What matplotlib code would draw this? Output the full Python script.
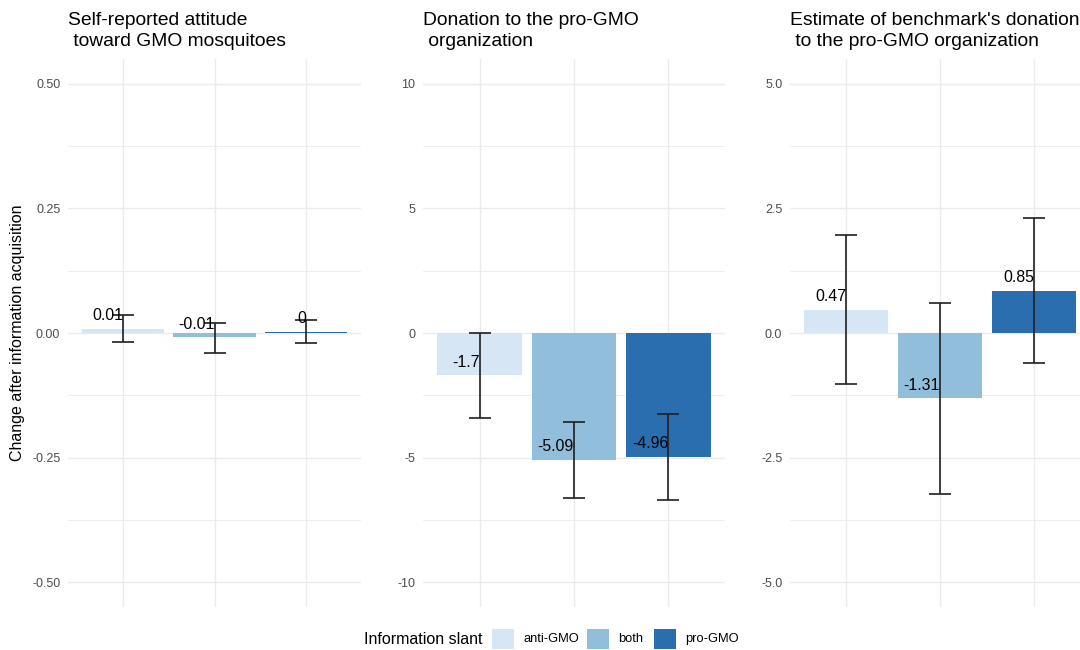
import matplotlib.pyplot as plt
from matplotlib.patches import Rectangle
from matplotlib.ticker import MultipleLocator

plt.rcParams['font.family'] = ['Liberation Sans', 'DejaVu Sans']

# Dados
slants = ["anti-GMO", "both", "pro-GMO"]
colors = ["#D6E6F4", "#91BFDB", "#2A6EB0"]

titles = ["Self-reported attitude\n toward GMO mosquitoes",
          "Donation to the pro-GMO\n organization",
          "Estimate of benchmark's donation\n to the pro-GMO organization"]

attitude = [0.008, -0.009, 0.002]
attitude_lo = [-0.019, -0.040, -0.021]
attitude_hi = [0.037, 0.021, 0.026]

donation = [-1.70, -5.09, -4.96]
donation_lo = [-3.40, -6.64, -6.69]
donation_hi = [0.00, -3.57, -3.27]

benchmark = [0.47, -1.31, 0.85]
benchmark_lo = [-1.02, -3.24, -0.60]
benchmark_hi = [1.97, 0.60, 2.30]

limits = [0.5, 10, 5]
major_steps = [0.25, 5, 2.5]
tick_fmt = ["{:.2f}", "{:g}", "{:.1f}"]

panels = [(attitude, attitude_lo, attitude_hi),
          (donation, donation_lo, donation_hi),
          (benchmark, benchmark_lo, benchmark_hi)]

# posições dos painéis em pixels (esquerda, largura)
W, H = 1080, 650
pos_px = [(68, 293), (423, 302), (790, 300)]
top_px, bot_px = 59, 607

fig = plt.figure(figsize=(W / 100, H / 100), dpi=100)

for i, (vals, lo, hi) in enumerate(panels):
    left, width = pos_px[i]
    ax = fig.add_axes([left / W, (H - bot_px) / H, width / W, (bot_px - top_px) / H])
    x = list(range(len(slants)))
    ax.bar(x, vals, width=0.9, color=colors, zorder=2)
    yerr = [[v - l for v, l in zip(vals, lo)], [h - v for v, h in zip(vals, hi)]]
    ax.errorbar(x, vals, yerr=yerr, fmt='none', ecolor='#1f1f1f', elinewidth=1.2,
                capsize=8.2, capthick=1.2, zorder=3)
    for xi, v in zip(x, vals):
        ax.annotate(f"{round(v, 2):g}", (xi, v), xytext=(0, 9.5), textcoords='offset points',
                    ha='right', va='center', fontsize=11.4, color='black', zorder=4)

    lim = limits[i]
    ax.set_ylim(-lim * 1.1, lim * 1.1)
    ax.set_xlim(-0.6, 2.6)
    ax.yaxis.set_major_locator(MultipleLocator(major_steps[i]))
    ax.yaxis.set_minor_locator(MultipleLocator(major_steps[i] / 2))
    ticks = [t for t in ax.get_yticks() if -lim - 1e-9 <= t <= lim + 1e-9]
    ax.set_yticks(ticks)
    ax.set_yticklabels([tick_fmt[i].format(t + 0.0) for t in ticks])
    ax.set_xticks(x)
    ax.set_xticklabels([])
    ax.tick_params(axis='both', which='both', length=0, pad=5.5, labelsize=9, labelcolor='#4d4d4d')
    ax.grid(True, which='major', color='#ebebeb', linewidth=1.0, zorder=0)
    ax.grid(True, which='minor', axis='y', color='#ebebeb', linewidth=0.6, zorder=0)
    ax.set_axisbelow(True)
    for s in ax.spines.values():
        s.set_visible(False)

    fig.text(left / W, 1 - 12 / H, titles[i], ha='left', va='top', fontsize=13.9,
             linespacing=1.3, color='black')

fig.text(18 / W, 1 - 333 / H, "Change after information acquisition", rotation=90,
         ha='center', va='center', fontsize=11.5)

# legenda na parte inferior
leg_y = 639
fig.text(364 / W, 1 - leg_y / H, "Information slant", ha='left', va='center', fontsize=11.5)
key_x = [492, 587, 654]
for kx, c, lab in zip(key_x, colors, slants):
    fig.add_artist(Rectangle((kx / W, 1 - 649 / H), 22 / W, 20 / H, transform=fig.transFigure,
                             facecolor=c, edgecolor='none'))
    fig.text((kx + 31) / W, 1 - leg_y / H, lab, ha='left', va='center', fontsize=9.3)

plt.savefig("out.png", dpi=100)
